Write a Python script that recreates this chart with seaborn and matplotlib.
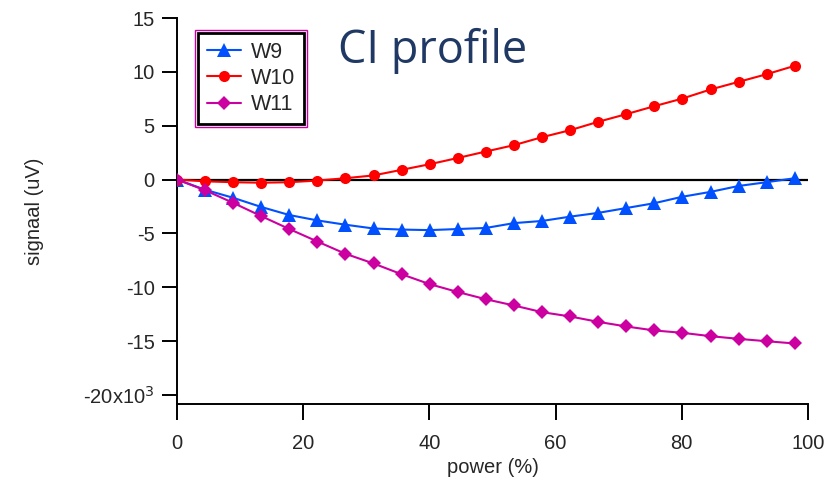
import pandas as pd
import matplotlib.pyplot as plt
import matplotlib.patches as mpatches
import seaborn as sns

# Data, y values in units of 10^3
power = [0, 4.45, 8.9, 13.35, 17.8, 22.25, 26.7, 31.15, 35.6, 40.05, 44.5, 48.95,
         53.4, 57.85, 62.3, 66.75, 71.2, 75.65, 80.1, 84.55, 89.0, 93.45, 97.9]
w9 = [0, -0.95, -1.7, -2.55, -3.3, -3.8, -4.2, -4.55, -4.65, -4.7, -4.6, -4.5,
      -4.05, -3.85, -3.45, -3.1, -2.65, -2.2, -1.6, -1.15, -0.6, -0.25, 0.12]
w10 = [0, -0.17, -0.25, -0.3, -0.25, -0.1, 0.12, 0.38, 0.9, 1.42, 2.0, 2.6,
       3.19, 3.93, 4.58, 5.36, 6.07, 6.81, 7.52, 8.36, 9.07, 9.78, 10.56]
w11 = [0, -1.0, -2.17, -3.4, -4.6, -5.76, -6.9, -7.8, -8.8, -9.72, -10.45, -11.12,
       -11.7, -12.32, -12.72, -13.22, -13.65, -14.02, -14.24, -14.55, -14.8, -15.02, -15.23]
series_names = ["W9", "W10", "W11"]
y_ticks = [-20, -15, -10, -5, 0, 5, 10, 15]
y_ticklabels = ["-20x10$^3$", "-15", "-10", "-5", "0", "5", "10", "15"]
x_ticks = [0, 20, 40, 60, 80, 100]

df = pd.DataFrame({
    "power": power * 3,
    "signal": w9 + w10 + w11,
    "name": sum([[n] * len(power) for n in series_names], []),
})

sns.set_style("ticks")
plt.rcParams["font.family"] = ["Liberation Sans", "DejaVu Sans"]

fig = plt.figure(figsize=(8.38, 4.82), dpi=100)
ax = fig.add_axes([177 / 838, 1 - 404 / 482, 631 / 838, 386 / 482])

ax.axhline(0, color="black", lw=1.6, zorder=1)

colors = {"W9": "#0050FF", "W10": "#FF0000", "W11": "#CC00A0"}
markers = {"W9": "^", "W10": "o", "W11": "D"}
msizes = {"W9": 9.5, "W10": 8, "W11": 7.5}
for name in series_names:
    sns.lineplot(data=df[df["name"] == name], x="power", y="signal", label=name,
                 color=colors[name], marker=markers[name], markersize=msizes[name],
                 markeredgewidth=0, linewidth=1.5, ax=ax, zorder=3)

ax.set_xlim(0, 100)
ax.set_ylim(-20.85, 15)
ax.set_xticks(x_ticks)
ax.set_yticks(y_ticks)
ax.set_yticklabels(y_ticklabels)
ax.tick_params(direction="out", width=1.4, labelsize=14.5, color="black")
ax.tick_params(axis="x", length=11.5, pad=10)
ax.tick_params(axis="y", length=11, pad=5)
for s in ["left", "bottom"]:
    ax.spines[s].set_linewidth(1.4)
    ax.spines[s].set_color("black")
sns.despine(ax=ax)

ax.set_xlabel("power (%)", fontsize=14.5, labelpad=4)
ax.set_ylabel("signaal (uV)", fontsize=14.5, labelpad=28)

leg = ax.legend(loc="upper left", bbox_to_anchor=((198 - 177) / 631, (404 - 33) / 386),
                borderaxespad=0, fontsize=15.5, frameon=True, fancybox=False,
                edgecolor="black", handlelength=1.6, borderpad=0.4,
                labelspacing=0.25, handletextpad=0.45)
leg.get_frame().set_linewidth(2.0)
leg.get_frame().set_alpha(None)

fig.text(338 / 838, 1 - 63 / 482, "CI profile", fontsize=32.5, color="#1F3864",
         family=["Open Sans", "DejaVu Sans"], va="baseline", ha="left")

# outer thin magenta frame around the legend
fig.canvas.draw()
bb = leg.get_window_extent()
pad = 3
rect = mpatches.Rectangle(((bb.x0 - pad) / fig.bbox.width, (bb.y0 - pad) / fig.bbox.height),
                          (bb.width + 2 * pad) / fig.bbox.width, (bb.height + 2 * pad) / fig.bbox.height,
                          transform=fig.transFigure, fill=False, edgecolor="#CC00A0", lw=1.0)
fig.patches.append(rect)

fig.savefig("out.png", dpi=100)
plt.close()
